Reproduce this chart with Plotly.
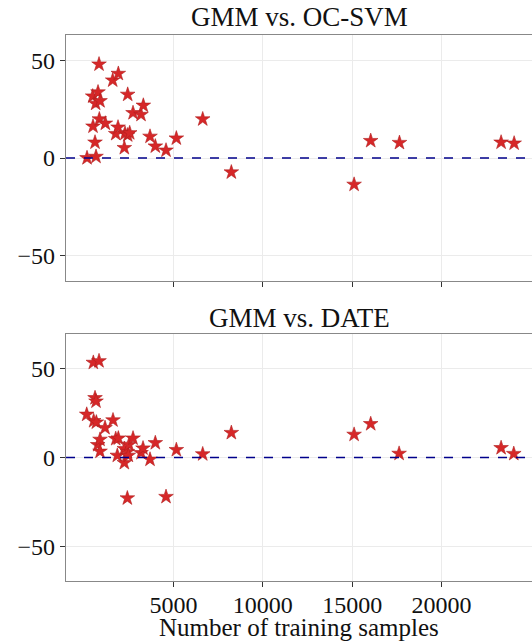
import plotly.graph_objects as go
from plotly.subplots import make_subplots

# GMM vs. OC-SVM
x_ocsvm = [157, 474, 493, 605, 641, 661, 773, 829, 846, 885, 1183, 1594, 1764, 1893,
           1910, 2246, 2284, 2434, 2434, 2546, 2733, 3180, 3310, 3684, 3981, 4580,
           5158, 6634, 8237, 15110, 16040, 17650, 23340, 24070]
y_ocsvm = [0, 31.6, 16.2, 8, 27.9, 0.7, 33.7, 48, 19.9, 29.2, 17.7, 39.8, 12.4, 15.7,
           43.2, 5.2, 12.6, 32.5, 11.7, 12.8, 23.1, 22.2, 26.9, 11, 6, 3.9,
           10.1, 19.9, -7.3, -13.6, 8.8, 7.8, 8, 7.5]

# GMM vs. DATE
x_date = [140, 510, 530, 605, 661, 680, 755, 829, 885, 885, 1165, 1612, 1764, 1853,
          1910, 2246, 2246, 2415, 2415, 2470, 2508, 2733, 3180, 3292, 3684, 3981,
          4580, 5158, 6634, 8237, 15110, 16040, 17630, 23340, 24050]
y_date = [24.2, 53.4, 20.6, 33.5, 31.6, 19.8, 7.1, 54.3, 10.1, 3.4, 16.7, 21, 10.5, 1.1,
          10.8, 4.9, -3, 3.2, -22.9, 1.1, 7.3, 10.8, 2.6, 5.2, -1.1, 8.2,
          -22.1, 4.3, 1.9, 13.9, 12.9, 18.9, 2.2, 5.4, 2.1]

titles = ["GMM vs. OC-SVM", "GMM vs. DATE"]
x_label = "Number of training samples"
x_ticks = [5000, 10000, 15000, 20000]
x_ticktext = ["5000", "10000", "15000", "20000"]
y_ticks = [-50, 0, 50]
y_ticktext = ["\u221250", "0", "50"]

H = 641
top_m, bot_m = 35, 60
plot_h = H - top_m - bot_m

def py(pix):
    return (H - bot_m - pix) / plot_h

fig = make_subplots(rows=2, cols=1)

marker = dict(symbol="star", size=11, color="#d62728",
              line=dict(color="#b01e1e", width=0.6))
fig.add_trace(go.Scatter(x=x_ocsvm, y=y_ocsvm, mode="markers", marker=marker,
                         showlegend=False), row=1, col=1)
fig.add_trace(go.Scatter(x=x_date, y=y_date, mode="markers", marker=marker,
                         showlegend=False), row=2, col=1)

font_family = "Liberation Serif, Times New Roman, serif"

common_x = dict(range=[-1020, 25070], tickvals=x_ticks, ticktext=x_ticktext,
                ticks="outside", ticklen=5, automargin=False, ticklabelstandoff=-3,
                tickcolor="#333", showline=True, linecolor="#888", linewidth=1.2,
                mirror=True, showgrid=True, gridcolor="#ebebeb", gridwidth=1,
                zeroline=False, tickfont=dict(size=24, color="#111"))
common_y = dict(tickvals=y_ticks, ticktext=y_ticktext, ticks="outside", ticklen=5,
                tickcolor="#333", automargin=False,
                showline=True, linecolor="#888", linewidth=1.2, mirror=False,
                showgrid=True, gridcolor="#ebebeb", gridwidth=1, zeroline=False,
                tickfont=dict(size=24, color="#111"))

fig.update_layout(
    xaxis=dict(common_x, showticklabels=False, anchor="y"),
    xaxis2=dict(common_x, anchor="y2"),
    yaxis=dict(common_y, range=[-63, 63], domain=[py(281), 1]),
    yaxis2=dict(common_y, range=[-69.5, 69.5], domain=[0, py(334)]),
)

for i, ref in enumerate(["x", "x2"]):
    yref = "y" if i == 0 else "y2"
    fig.add_shape(type="line", xref=f"{ref} domain", yref=yref, x0=0, x1=1, y0=0, y1=0,
                  line=dict(color="#00008b", width=1.4, dash="dash"), layer="above")

fig.add_annotation(text=titles[0], xref="paper", yref="paper", x=0.5, y=py(17),
                   xanchor="center", yanchor="middle", showarrow=False,
                   font=dict(size=27, color="#111"))
fig.add_annotation(text=titles[1], xref="paper", yref="paper", x=0.5, y=py(318),
                   xanchor="center", yanchor="middle", showarrow=False,
                   font=dict(size=27, color="#111"))
fig.add_annotation(text=x_label, xref="paper", yref="paper", x=0.5, y=py(627),
                   xanchor="center", yanchor="middle", showarrow=False,
                   font=dict(size=25, color="#111"))

fig.update_layout(
    width=532, height=641,
    margin=dict(l=66, r=0, t=top_m, b=bot_m),
    paper_bgcolor="white", plot_bgcolor="white",
    font=dict(family=font_family, color="#111"),
)

fig.write_html("out.html", config={"displayModeBar": False},
               post_script="document.body.style.margin='0';document.body.style.overflow='hidden';")
